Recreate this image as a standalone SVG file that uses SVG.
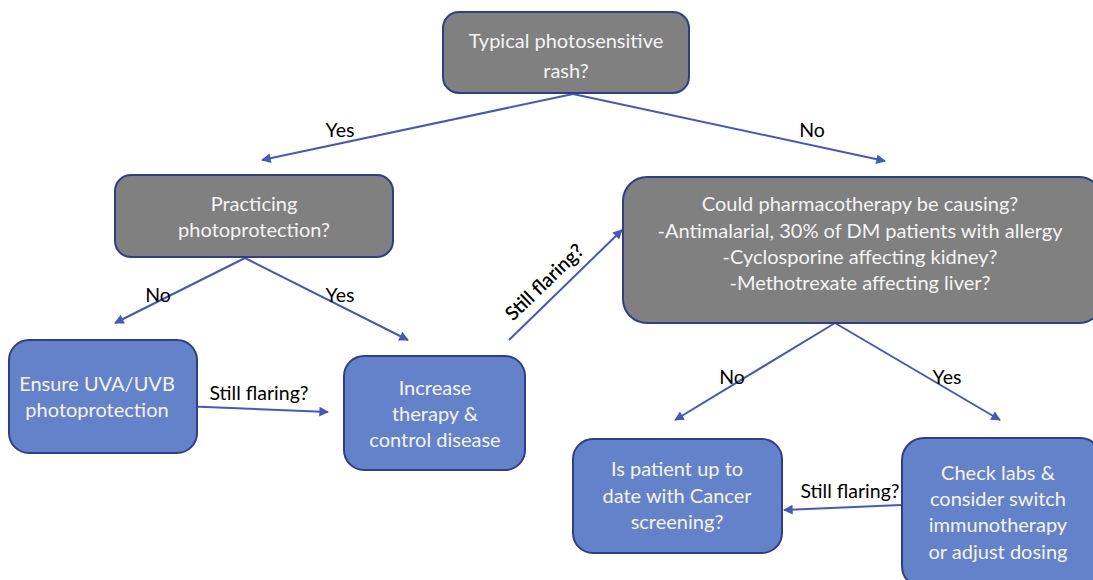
<svg xmlns="http://www.w3.org/2000/svg" width="1093" height="580" viewBox="0 0 1093 580">
<style>
.grey{fill:#808080;stroke:#2f3d8c;stroke-width:2}
.blue{fill:#6482ca;stroke:#2f3d8c;stroke-width:2}
.nt{font-family:Lato,"Liberation Sans",sans-serif;font-size:20px;fill:#f4f4f4;text-anchor:middle}
.lb{font-family:Lato,"Liberation Sans",sans-serif;font-size:19.5px;fill:#000;text-anchor:middle}
.cn{stroke:#4557c0;stroke-width:2;fill:none;marker-end:url(#ah)}
</style>
<defs>
<marker id="ah" viewBox="0 0 10 10" refX="9" refY="5" markerWidth="7" markerHeight="6" markerUnits="userSpaceOnUse" orient="auto" overflow="visible">
<path d="M0,0 L10,5 L0,10 Z" fill="#4557c0" transform="scale(1.6)" transform-origin="9 5"/>
</marker>
</defs>
<rect width="1093" height="580" fill="#fff"/>
<g id="connectors">
<line class="cn" x1="573" y1="94" x2="262" y2="160"/>
<line class="cn" x1="573" y1="94" x2="885" y2="161"/>
<line class="cn" x1="245" y1="258" x2="115" y2="323"/>
<line class="cn" x1="245" y1="258" x2="408" y2="340"/>
<line class="cn" x1="180" y1="406" x2="328" y2="412"/>
<line class="cn" x1="509" y1="340" x2="622" y2="230"/>
<line class="cn" x1="835" y1="323" x2="675" y2="420"/>
<line class="cn" x1="835" y1="323" x2="1000" y2="420"/>
<line class="cn" x1="901" y1="505" x2="784" y2="510"/>
<text class="lb" x="340" y="137">Yes</text>
<text class="lb" x="812" y="137">No</text>
<text class="lb" x="158" y="302">No</text>
<text class="lb" x="340" y="302">Yes</text>
<text class="lb" x="259" y="400">Still flaring?</text>
<text class="lb" x="732" y="384">No</text>
<text class="lb" x="947" y="384">Yes</text>
<text class="lb" x="850" y="498">Still flaring?</text>
<text class="lb" transform="translate(549,287) rotate(-44)" style="font-weight:600">Still flaring?</text>
</g>
<g id="n1"><rect class="grey" x="443" y="12" width="246" height="81" rx="16"/>
<text class="nt" x="566" y="48">Typical photosensitive</text><text class="nt" x="566" y="78">rash?</text></g>
<g id="n2"><rect class="grey" x="115" y="175" width="278" height="82" rx="16"/>
<text class="nt" x="254" y="211">Practicing</text><text class="nt" x="254" y="237">photoprotection?</text></g>
<g id="n3"><rect class="blue" x="9" y="340" width="188" height="113" rx="20"/>
<text class="nt" x="97" y="391">Ensure UVA/UVB</text><text class="nt" x="97" y="417">photoprotection</text></g>
<g id="n4"><rect class="blue" x="344" y="356" width="181" height="114" rx="20"/>
<text class="nt" x="435" y="395">Increase</text><text class="nt" x="435" y="421">therapy &amp;</text><text class="nt" x="435" y="447">control disease</text></g>
<g id="n5"><rect class="grey" x="623" y="177" width="480" height="146" rx="24"/>
<text class="nt" x="860" y="211">Could pharmacotherapy be causing?</text><text class="nt" x="860" y="238">-Antimalarial, 30% of DM patients with allergy</text><text class="nt" x="860" y="264">-Cyclosporine affecting kidney?</text><text class="nt" x="860" y="290">-Methotrexate affecting liver?</text></g>
<g id="n6"><rect class="blue" x="573" y="439" width="209" height="114" rx="20"/>
<text class="nt" x="677" y="476">Is patient up to</text><text class="nt" x="677" y="503">date with Cancer</text><text class="nt" x="677" y="529">screening?</text></g>
<g id="n7"><rect class="blue" x="902" y="438" width="200" height="150" rx="22"/>
<text class="nt" x="998" y="480">Check labs &amp;</text><text class="nt" x="998" y="506">consider switch</text><text class="nt" x="998" y="532">immunotherapy</text><text class="nt" x="998" y="559">or adjust dosing</text></g>
</svg>
